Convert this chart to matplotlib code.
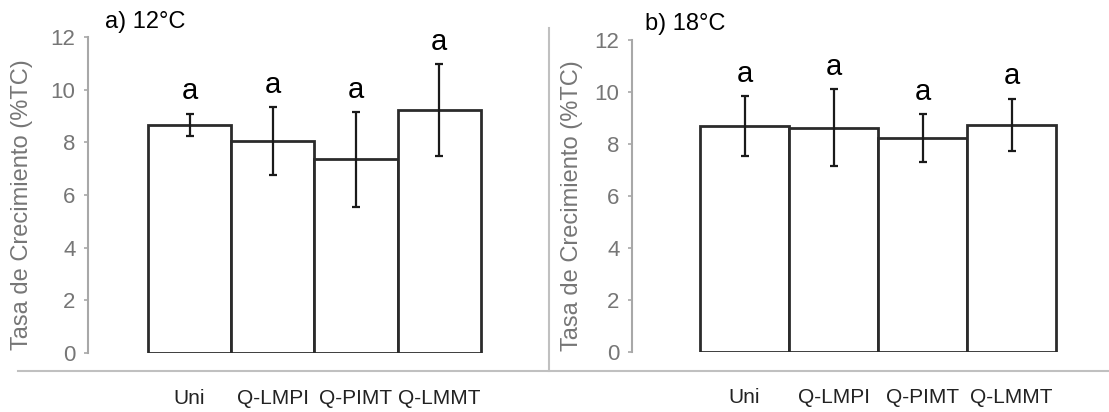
import matplotlib
matplotlib.use("Agg")
import matplotlib.pyplot as plt
from matplotlib.lines import Line2D
import numpy as np

plt.rcParams['font.family'] = ['Liberation Sans', 'DejaVu Sans']

groups = ["Uni", "Q-LMPI", "Q-PIMT", "Q-LMMT"]
mean_12 = [8.66, 8.05, 7.35, 9.23]   # a) 12°C
err_12 = [0.43, 1.28, 1.80, 1.73]
mean_18 = [8.69, 8.63, 8.22, 8.75]   # b) 18°C
err_18 = [1.14, 1.48, 0.93, 1.00]
letters_12 = ["a", "a", "a", "a"]
letters_18 = ["a", "a", "a", "a"]
yticks = [0, 2, 4, 6, 8, 10, 12]

W, H = 1109, 412
fig = plt.figure(figsize=(W / 100, H / 100), dpi=100)

gray = "#767676"
spine_gray = "#a8a8a8"

def panel(rect, xlim, means, errs, letters, title, title_xy, ylab_x):
    ax = fig.add_axes(rect)
    x = np.arange(len(groups))
    ax.bar(x, means, width=1.0, color="white", edgecolor="#2b2b2b", linewidth=2)
    ax.errorbar(x, means, yerr=errs, fmt="none", ecolor="#1a1a1a",
                elinewidth=1.6, capsize=3, capthick=1.6)
    for xi, m, e, t in zip(x, means, errs, letters):
        ax.text(xi, m + e + 0.85, t, ha="center", va="center", fontsize=21, color="black")
    ax.set_xlim(*xlim)
    ax.set_ylim(0, 12)
    ax.set_yticks(yticks)
    ax.set_yticklabels([str(v) for v in yticks], fontsize=16, color=gray)
    ax.set_xticks(x)
    ax.set_xticklabels(groups, fontsize=15, color="#222222")
    ax.tick_params(axis="x", length=0, pad=26)
    ax.tick_params(axis="y", length=3, width=1.2, color=spine_gray, pad=6)
    for s in ["top", "right", "bottom"]:
        ax.spines[s].set_visible(False)
    ax.spines["left"].set_color(spine_gray)
    ax.spines["left"].set_linewidth(1.5)
    ax.set_ylabel("Tasa de Crecimiento (%TC)", fontsize=17, color=gray)
    ax.yaxis.set_label_coords(ylab_x, 0.47)
    ax.patch.set_alpha(0)
    fig.text(title_xy[0] / W, 1 - title_xy[1] / H, title, fontsize=17,
             ha="left", va="center", color="black")
    return ax

# left panel: axis x=88, y0 at 353, y12 at 37
panel([88 / W, (H - 353) / H, 402 / W, 316 / H], (-1.22, 3.61),
      mean_12, err_12, letters_12, "a) 12°C", (105, 22), -0.137)
# right panel: axis x=632, y0 at 352, y12 at 40
panel([632 / W, (H - 352) / H, 433 / W, 312 / H], (-1.264, 3.6),
      mean_18, err_18, letters_18, "b) 18°C", (645, 24), -0.113)

# frame lines between/below the panels
fig.add_artist(Line2D([18 / W, 1.0], [1 - 371 / H, 1 - 371 / H],
                      transform=fig.transFigure, color="#c0c0c0", linewidth=1.5))
fig.add_artist(Line2D([549 / W, 549 / W], [1 - 28 / H, 1 - 371 / H],
                      transform=fig.transFigure, color="#c0c0c0", linewidth=1.5))

fig.savefig("out.png", dpi=100, facecolor="white")
